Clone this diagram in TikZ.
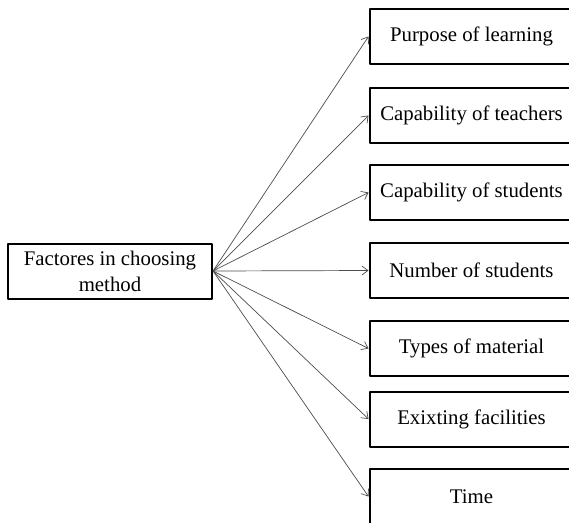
\documentclass[tikz,border=0pt]{standalone}
\usepackage{fontspec}
\setmainfont{Liberation Serif}
\usetikzlibrary{arrows.meta}
\begin{document}
\begin{tikzpicture}[x=1pt, y=-1pt, >={Straight Barb[length=6pt,width=9pt]}, font=\fontsize{20.8}{26}\selectfont, line join=round,
		factor/.style={draw, line width=2pt, minimum width=204pt, minimum height=55pt, inner sep=0pt, align=center},
		link/.style={->, draw=black!70, line width=0.7pt}]
		\useasboundingbox (0,0) rectangle (569,522);
		\clip (0,0) rectangle (569,522);
		\def\xr{471.5}
		\node[factor] (method) at (110,271) {Factores in choosing\\method};
		\node[factor] (purpose) at (\xr,36.5) {Purpose of learning};
		\node[factor] (teachers) at (\xr,115.5) {Capability of teachers};
		\node[factor] (students) at (\xr,192.5) {Capability of students};
		\node[factor] (number) at (\xr,270.5) {Number of students};
		\node[factor] (material) at (\xr,348.5) {Types of material};
		\node[factor] (facilities) at (\xr,419) {Exixting facilities};
		\node[factor] (time) at (\xr,496.5) {Time};
		\foreach \f in {purpose,teachers,students,number,material,facilities,time}
		\draw[link] (method.east) -- (\f.west);
\end{tikzpicture}
\end{document}
